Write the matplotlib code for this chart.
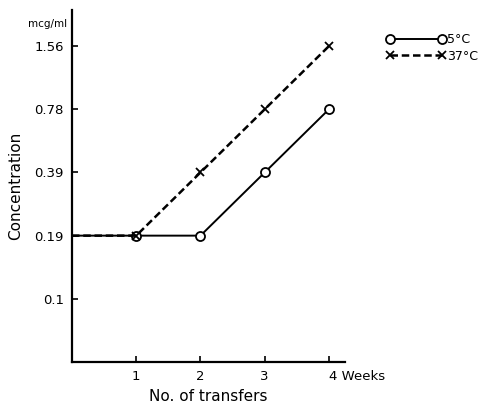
import matplotlib
matplotlib.use("Agg")
import matplotlib.pyplot as plt
from matplotlib.lines import Line2D
import matplotlib.transforms as mtransforms

# Data
transfers = [0, 1, 2, 3, 4]
conc_5c = [0.195, 0.195, 0.195, 0.39, 0.78]
conc_37c = [0.195, 0.195, 0.39, 0.78, 1.56]
ytick_vals = [0.0975, 0.195, 0.39, 0.78, 1.56]
ytick_labels = ["0.1", "0.19", "0.39", "0.78", "1.56"]
xtick_vals = [1, 2, 3, 4]
xtick_labels = ["1", "2", "3", "4 Weeks"]
series_labels = ["5°C", "37°C"]

fig = plt.figure(figsize=(4.85, 4.05), dpi=100)
ax = fig.add_axes([72/485, 1 - 362/405, (345 - 72)/485, (362 - 10)/405])

ax.plot(transfers, conc_5c, color="black", lw=1.4, marker="o", ms=6.5,
        mfc="white", mec="black", mew=1.3, markevery=[1, 2, 3, 4], zorder=3)
ax.plot(transfers, conc_37c, color="black", lw=1.8, ls=(0, (3, 1.5)),
        marker="x", ms=6, mew=1.3, markevery=[1, 2, 3, 4], zorder=4)

ax.set_yscale("log", base=2)
ax.set_ylim(0.0975 / 2, 1.56 * 2 ** (36 / 63))
ax.set_xlim(0, 4.25)
ax.set_yticks(ytick_vals)
ax.set_yticklabels(ytick_labels)
ax.minorticks_off()
ax.set_xticks(xtick_vals)
ax.set_xticklabels(xtick_labels)
last = ax.get_xticklabels()[-1]
last.set_horizontalalignment("left")
last.set_transform(last.get_transform() + mtransforms.ScaledTranslation(-5/100, 0, fig.dpi_scale_trans))

for s in ["top", "right"]:
    ax.spines[s].set_visible(False)
for s in ["left", "bottom"]:
    ax.spines[s].set_linewidth(1.6)
ax.tick_params(direction="in", length=4, width=1.2, labelsize=9.5, pad=6)

ax.set_xlabel("No. of transfers", fontsize=11, labelpad=4)
ax.set_ylabel("Concentration", fontsize=11, labelpad=8)
ax.text(-0.09, 1.56 * 2 ** (22 / 63), "mcg/ml", transform=ax.get_yaxis_transform(),
        fontsize=7.5, ha="center", va="center")

handles = [
    Line2D([], [], color="black", lw=1.4, marker="o", ms=6.5, mfc="white", mec="black", mew=1.3),
    Line2D([], [], color="black", lw=1.8, ls=(0, (3, 1.5)), marker="x", ms=6, mew=1.3),
]
fig.legend(handles, series_labels, loc="upper left", bbox_to_anchor=(386/485, 1 - 33/405),
           frameon=False, numpoints=2, handlelength=4.8, handletextpad=0.1,
           labelspacing=0.3, fontsize=9, borderaxespad=0, borderpad=0)

fig.savefig("out.png", dpi=100)
